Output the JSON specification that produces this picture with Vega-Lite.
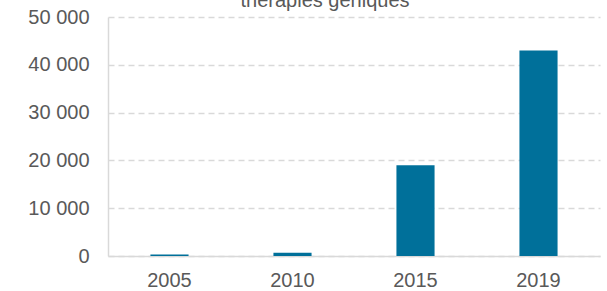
{
  "$schema": "https://vega.github.io/schema/vega-lite/v6.json",
  "width": 492,
  "height": 239,
  "autosize": {"type": "none"},
  "padding": {"left": 108, "top": 17, "right": 7, "bottom": 35},
  "background": "white",
  "title": {
    "text": "thérapies géniques",
    "anchor": "middle",
    "dx": -29,
    "dy": 4,
    "offset": 0,
    "fontSize": 20,
    "fontWeight": "normal",
    "color": "#595959",
    "font": "Liberation Sans"
  },
  "config": {
    "locale": {"number": {"decimal": ",", "thousands": " ", "grouping": [3], "currency": ["", " €"]}},
    "view": {"stroke": null},
    "font": "Liberation Sans"
  },
  "data": {
    "values": [
      {"annee": "2005", "patients": 300},
      {"annee": "2010", "patients": 700},
      {"annee": "2015", "patients": 19000},
      {"annee": "2019", "patients": 43000}
    ]
  },
  "mark": {"type": "bar", "color": "#00709A"},
  "encoding": {
    "x": {
      "field": "annee",
      "type": "nominal",
      "sort": null,
      "scale": {"paddingInner": 0.69, "paddingOuter": 0.345},
      "axis": {
        "title": null,
        "labelAngle": 0,
        "labelFontSize": 20,
        "labelColor": "#595959",
        "labelPadding": 14,
        "ticks": false,
        "domainColor": "#d9d9d9",
        "domainWidth": 1.5,
        "grid": false
      }
    },
    "y": {
      "field": "patients",
      "type": "quantitative",
      "scale": {"domain": [0, 50000]},
      "axis": {
        "title": null,
        "values": [0, 10000, 20000, 30000, 40000, 50000],
        "format": ",d",
        "labelFontSize": 20,
        "labelColor": "#595959",
        "labelPadding": 19,
        "ticks": false,
        "domainColor": "#d9d9d9",
        "domainWidth": 1.5,
        "gridColor": "#d9d9d9",
        "gridDash": [6, 4],
        "gridWidth": 1.5
      }
    }
  }
}
